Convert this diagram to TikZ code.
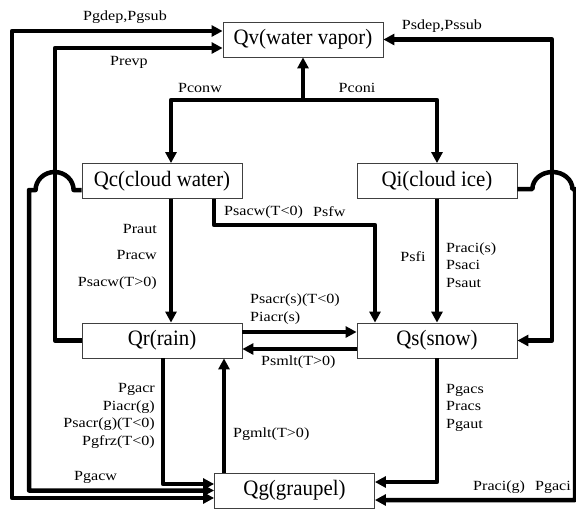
\documentclass[tikz,border=0pt]{standalone}
\usepackage{fontspec}
\setmainfont{Liberation Serif}
\newfontfamily\boxfont[FakeStretch=0.95]{Liberation Serif}
\newfontfamily\lblfont[FakeStretch=1.15]{Liberation Serif}
\usetikzlibrary{arrows.meta}
\begin{document}
\begin{tikzpicture}[x=1pt,y=-1pt,
    box/.style={draw=black!75,line width=0.8pt,minimum width=160pt,minimum height=35pt,
      inner sep=0pt,font=\boxfont\fontsize{22}{24}\selectfont},
    lbl/.style={font=\lblfont\fontsize{14}{17.5}\selectfont,inner sep=0pt},
    flow/.style={line width=4.5pt,line join=round,-{Triangle[length=11pt,width=11pt]}},
    twoway/.style={line width=4.5pt,line join=round,
      {Triangle[length=11pt,width=11pt]}-{Triangle[length=11pt,width=11pt]}}]
      \useasboundingbox (0,0) rectangle (576,512);
      \node[box] (Qv) at (303,39.5) {Qv(water vapor)};
      \node[box] (Qc) at (162,181) {Qc(cloud water)};
      \node[box] (Qi) at (437,181) {Qi(cloud ice)};
      \node[box] (Qr) at (162,340.5) {Qr(rain)};
      \node[box] (Qs) at (437,340.5) {Qs(snow)};
      \node[box] (Qg) at (294.5,490.5) {Qg(graupel)};
      \coordinate (split) at (303,100);
      \begin{scope}[flow]
        \draw (split) -- (Qv.south);
        \draw (split) -| ([xshift=9pt]Qc.north);
        \draw (split) -| (Qi.north);
        \draw ([xshift=9pt]Qc.south) -- ([xshift=9pt]Qr.north);
        \draw ([xshift=52pt]Qc.south) -- ++(0,26) -| ([xshift=-62pt]Qs.north);
        \draw (Qi.south) -- (Qs.north);
        \draw ([yshift=8.5pt]Qr.east) -- ([yshift=8.5pt]Qs.west);
        \draw ([yshift=-8.5pt]Qs.west) -- ([yshift=-8.5pt]Qr.east);
        \draw ([xshift=1pt]Qr.south) |- ([yshift=6.5pt]Qg.west);
        \draw ([xshift=-70.5pt]Qg.north) -- ([xshift=62pt]Qr.south);
        \draw (Qs.south) |- ([yshift=8.5pt]Qg.east);
        \draw (Qr.west) -| (55,200) |- ([yshift=-8.5pt]Qv.west);
        \draw ([yshift=-9pt]Qc.west) -- ++(-8,0)
          arc[start angle=0,end angle=180,x radius=19pt,y radius=18pt] -| (29,300) |- (Qg.west);
        \draw ([yshift=-8pt]Qi.east) -- ++(15,0)
          arc[start angle=180,end angle=0,x radius=20pt,y radius=17pt] -| (575,300)
          |- ([yshift=-9.5pt]Qg.east);
      \end{scope}
      \begin{scope}[twoway]
        \draw ([yshift=8.5pt]Qv.west) -| (12,300) |- ([yshift=-7.5pt]Qg.west);
        \draw (Qv.east) -| (552,200) |- (Qs.east);
      \end{scope}
      \node[lbl] (gdep) at (125,17) {Pgdep,Pgsub};
      \node[lbl] (revp) at (129,62) {Prevp};
      \node[lbl] (conw) at (200,88) {Pconw};
      \node[lbl] (coni) at (357,88) {Pconi};
      \node[lbl] (sdep) at (442,26) {Psdep,Pssub};
      \node[lbl,anchor=east,align=right] (raut) at (157,256.5) {Praut\\[9pt]Pracw\\[9pt]Psacw(T>0)};
      \node[lbl,anchor=west] (sacwc) at (224,212) {Psacw(T<0)};
      \node[lbl,anchor=west] (sfw) at (313,212) {Psfw};
      \node[lbl] (sfi) at (413,257) {Psfi};
      \node[lbl,anchor=west,align=left] (racis) at (446,265) {Praci(s)\\Psaci\\Psaut};
      \node[lbl,anchor=west,align=left] (sacrs) at (250,309) {Psacr(s)(T<0)\\Piacr(s)};
      \node[lbl,anchor=west] (smlt) at (261,362) {Psmlt(T>0)};
      \node[lbl,anchor=east,align=right] (gacr) at (155,416) {Pgacr\\Piacr(g)\\Psacr(g)(T<0)\\Pgfrz(T<0)};
      \node[lbl,anchor=west] (gmlt) at (233,434) {Pgmlt(T>0)};
      \node[lbl,anchor=west] (gacw) at (74,477) {Pgacw};
      \node[lbl,anchor=west,align=left] (gacs) at (446,407.5) {Pgacs\\Pracs\\Pgaut};
      \node[lbl,anchor=west] (racig) at (473,487) {Praci(g)\hspace{10pt}Pgaci};
    \end{tikzpicture}
\end{document}
